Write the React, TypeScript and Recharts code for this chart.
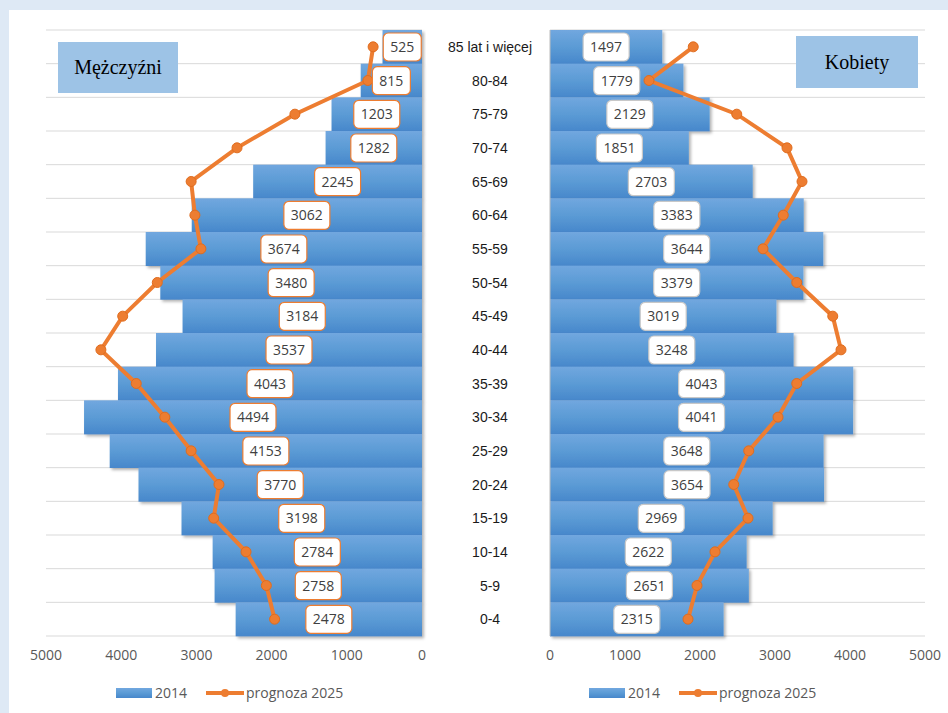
import React from "react";
import { Bar, CartesianGrid, ComposedChart, LabelList, Line, XAxis, YAxis } from "recharts";

const ageGroups = [
  "85 lat i więcej",
  "80-84",
  "75-79",
  "70-74",
  "65-69",
  "60-64",
  "55-59",
  "50-54",
  "45-49",
  "40-44",
  "35-39",
  "30-34",
  "25-29",
  "20-24",
  "15-19",
  "10-14",
  "5-9",
  "0-4",
];

const men2014 = [525, 815, 1203, 1282, 2245, 3062, 3674, 3480, 3184, 3537, 4043, 4494, 4153, 3770, 3198, 2784, 2758, 2478];
const men2025 = [650, 720, 1690, 2460, 3070, 3020, 2940, 3520, 3980, 4270, 3800, 3420, 3070, 2700, 2770, 2340, 2070, 1960];
const women2014 = [1497, 1779, 2129, 1851, 2703, 3383, 3644, 3379, 3019, 3248, 4043, 4041, 3648, 3654, 2969, 2622, 2651, 2315];
const women2025 = [1910, 1320, 2490, 3160, 3360, 3110, 2840, 3290, 3770, 3880, 3290, 3040, 2650, 2450, 2640, 2200, 1960, 1840];

const xTicks = [0, 1000, 2000, 3000, 4000, 5000];

const ORANGE = "#ed7d31";
const TICK_FONT = { fontSize: 14, fill: "#595959", fontFamily: "'Open Sans', sans-serif" };

const menData = ageGroups.map((age, i) => ({ age, v2014: men2014[i], v2025: men2025[i] }));
const womenData = ageGroups.map((age, i) => ({ age, v2014: women2014[i], v2025: women2025[i] }));

// gridlines sit on the band edges, not the band centres
const bandEdges = ({ offset }: any) => {
  const top = offset?.top ?? 30;
  const h = offset?.height ?? 606;
  return ageGroups.map((_, i) => top + (i * h) / ageGroups.length).concat(top + h);
};

function valueBox(border: string) {
  return (props: any) => {
    const vb = props.viewBox ?? props;
    const cx = Number(vb.x) + Number(vb.width) / 2;
    const cy = Number(vb.y) + Number(vb.height) / 2;
    const text = String(props.value);
    const w = text.length * 8 + 14;
    return (
      <g>
        <rect x={cx - w / 2} y={cy - 14} width={w} height={28} rx={5} fill="#fff" stroke={border} strokeWidth={1.2} />
        <text
          x={cx}
          y={cy + 5}
          textAnchor="middle"
          fontSize={14}
          fill="#404040"
          fontFamily="'Open Sans', sans-serif"
        >
          {text}
        </text>
      </g>
    );
  };
}

function barShape(id: string) {
  return (p: any) => {
    const x = Math.min(p.x, p.x + p.width);
    const w = Math.abs(p.width);
    return <rect x={x} y={p.y} width={w} height={p.height} fill={`url(#grad-${id})`} filter={`url(#shadow-${id})`} />;
  };
}

function Defs({ id }: { id: string }) {
  return (
    <defs>
      <linearGradient id={`grad-${id}`} x1="0" y1="0" x2="0" y2="1">
        <stop offset="0%" stopColor="#71a7df" />
        <stop offset="50%" stopColor="#5b9bd5" />
        <stop offset="100%" stopColor="#4787cb" />
      </linearGradient>
      <filter id={`shadow-${id}`} x="-10%" y="-20%" width="120%" height="150%">
        <feDropShadow dx="2" dy="2" stdDeviation="1.5" floodColor="#000" floodOpacity="0.3" />
      </filter>
    </defs>
  );
}

function AgeTick(props: any) {
  return (
    <text
      x={68}
      y={props.y + 5}
      textAnchor="middle"
      fontSize={14}
      fontWeight={400}
      fill="#1a1a1a"
      fontFamily="'Liberation Sans', Arial, sans-serif"
    >
      {props.payload.value}
    </text>
  );
}

function Legend({ x }: { x: number }) {
  return (
    <g fontFamily="'Open Sans', sans-serif" fontSize={14} fill="#595959">
      <rect x={x} y={688} width={36} height={10} fill="url(#grad-legend)" />
      <text x={x + 39} y={698}>2014</text>
      <line x1={x + 90} x2={x + 128} y1={693} y2={693} stroke={ORANGE} strokeWidth={4} />
      <circle cx={x + 109} cy={693} r={4} fill={ORANGE} />
      <text x={x + 130} y={698}>prognoza 2025</text>
    </g>
  );
}

const titleStyle: React.CSSProperties = {
  position: "absolute",
  background: "#9dc3e6",
  display: "flex",
  alignItems: "center",
  justifyContent: "center",
  fontFamily: "'Liberation Serif', 'Times New Roman', serif",
  fontSize: 20,
  color: "#000",
};

export default function App() {
  return (
    <div style={{ position: "absolute", left: 0, top: 0, width: 948, height: 713, background: "#dee9f5", overflow: "hidden" }}>
      <div style={{ position: "absolute", left: 9, top: 10, width: 939, height: 703, background: "#fff" }} />

      <div style={{ position: "absolute", left: 0, top: 0 }}>
        <ComposedChart
          width={474}
          height={713}
          layout="vertical"
          data={menData}
          margin={{ top: 30, right: 52, bottom: 47, left: 46 }}
          barCategoryGap={0}
        >
          <Defs id="m" />
          <CartesianGrid vertical={false} stroke="#d9d9d9" horizontalCoordinatesGenerator={bandEdges} />
          <XAxis
            type="number"
            domain={[0, 5000]}
            ticks={xTicks}
            reversed
            axisLine={false}
            tickLine={false}
            height={30}
            tickMargin={8}
            tick={TICK_FONT}
          />
          <YAxis
            type="category"
            dataKey="age"
            orientation="right"
            width={0}
            tick={false}
            tickLine={false}
            axisLine={{ stroke: "#bfbfbf" }}
          />
          <Bar dataKey="v2014" name="2014" shape={barShape("m")} isAnimationActive={false}>
            <LabelList dataKey="v2014" content={valueBox(ORANGE)} />
          </Bar>
          <Line
            dataKey="v2025"
            name="prognoza 2025"
            type="linear"
            stroke={ORANGE}
            strokeWidth={4}
            dot={{ r: 5, fill: ORANGE, stroke: "#e06c1e", strokeWidth: 1 }}
            isAnimationActive={false}
          />
        </ComposedChart>
      </div>

      <div style={{ position: "absolute", left: 422, top: 0 }}>
        <ComposedChart
          width={526}
          height={713}
          layout="vertical"
          data={womenData}
          margin={{ top: 30, right: 23, bottom: 47, left: 0 }}
          barCategoryGap={0}
        >
          <Defs id="w" />
          <CartesianGrid vertical={false} stroke="#d9d9d9" horizontalCoordinatesGenerator={bandEdges} />
          <XAxis
            type="number"
            domain={[0, 5000]}
            ticks={xTicks}
            axisLine={false}
            tickLine={false}
            height={30}
            tickMargin={8}
            tick={TICK_FONT}
          />
          <YAxis
            type="category"
            dataKey="age"
            width={128}
            tick={<AgeTick />}
            tickLine={false}
            axisLine={{ stroke: "#bfbfbf" }}
          />
          <Bar dataKey="v2014" name="2014" shape={barShape("w")} isAnimationActive={false}>
            <LabelList dataKey="v2014" content={valueBox("#c8c8c8")} />
          </Bar>
          <Line
            dataKey="v2025"
            name="prognoza 2025"
            type="linear"
            stroke={ORANGE}
            strokeWidth={4}
            dot={{ r: 5, fill: ORANGE, stroke: "#e06c1e", strokeWidth: 1 }}
            isAnimationActive={false}
          />
        </ComposedChart>
      </div>

      <svg width={948} height={713} style={{ position: "absolute", left: 0, top: 0, pointerEvents: "none" }}>
        <Defs id="legend" />
        <Legend x={116} />
        <Legend x={589} />
      </svg>

      <div style={{ ...titleStyle, left: 58, top: 42, width: 120, height: 51 }}>Mężczyźni</div>
      <div style={{ ...titleStyle, left: 796, top: 36, width: 122, height: 52 }}>Kobiety</div>
    </div>
  );
}
